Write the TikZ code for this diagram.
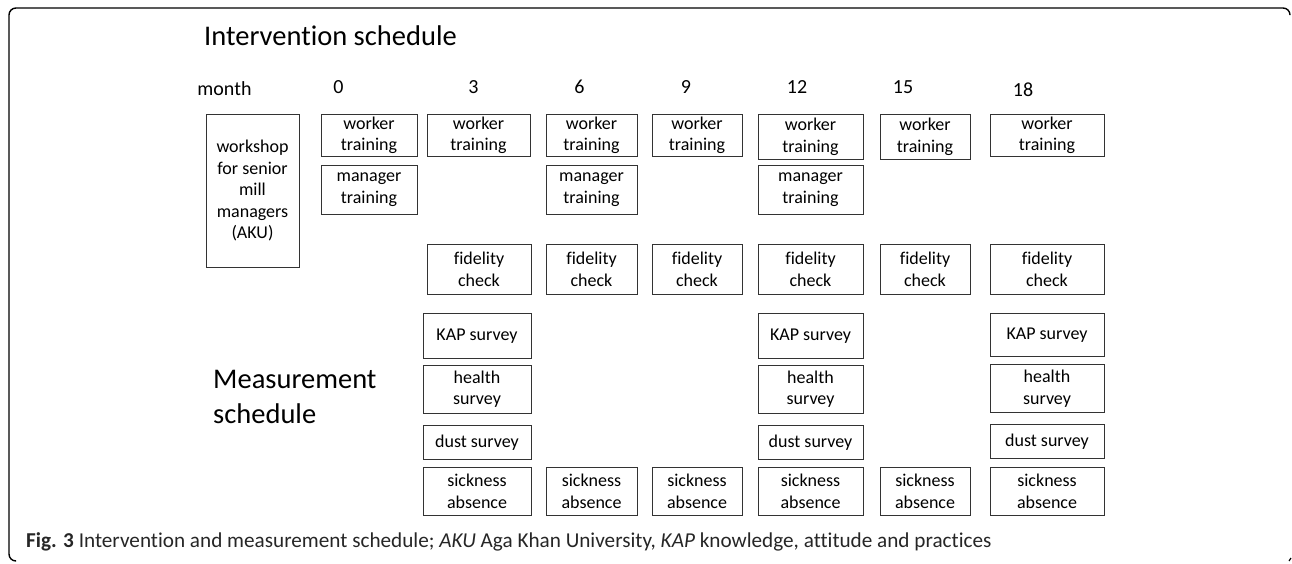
\documentclass[tikz,border=0pt]{standalone}
\usepackage{fontspec}
\setmainfont[Ligatures=NoCommon]{Carlito}
\usetikzlibrary{positioning}

\begin{document}
\begin{tikzpicture}[x=1pt,y=-1pt,
	task/.style={rectangle,draw=black!80,line width=0.9pt,inner sep=0pt,text centered,align=center,anchor=north,font=\fontsize{18}{21.5}\selectfont},
	monthlab/.style={inner sep=0pt,font=\fontsize{20}{24}\selectfont},
	heading/.style={inner sep=0pt,align=left,font=\fontsize{28.5}{35}\selectfont},
	caption/.style={inner sep=0pt,anchor=west,text=black!85,font=\fontsize{21.2}{24}\selectfont},
	frame/.style={line width=1.4pt,rounded corners=7pt}
	]
\useasboundingbox (0,0) rectangle (1292,563);

\draw [frame] (1290,14) -- (1290,8) -- (9,8) -- (9,561) -- (15,561);
\draw [line width=1.2pt] (1289,561) -- (1291,558);

\node [heading] (title) at (330.5,36) {Intervention schedule};
\node [heading, anchor=west] (meas) at (213,397) {Measurement\\schedule};

\node [monthlab] (month) at (224.5,89) {month};
\node [monthlab] (m0)  at (338.5,87) {0};
\node [monthlab] (m3)  at (473.5,87) {3};
\node [monthlab] (m6)  at (579.5,87) {6};
\node [monthlab] (m9)  at (686,87)   {9};
\node [monthlab] (m12) at (797,87)   {12};
\node [monthlab] (m15) at (903,87)   {15};
\node [monthlab] (m18) at (1023,90)  {18};

\node [task, minimum width=93, minimum height=153] (ws) at (252.5,114) {workshop\\for senior\\mill\\managers\\(AKU)};

% worker training
\node [task, minimum width=96,  minimum height=42] (w0)  at (369,114)    {worker\\training};
\node [task, minimum width=103, minimum height=42] (w3)  at (478.5,114)  {worker\\training};
\node [task, minimum width=91,  minimum height=42] (w6)  at (591.5,114)  {worker\\training};
\node [task, minimum width=90,  minimum height=42] (w9)  at (697,114)    {worker\\training};
\node [task, minimum width=105, minimum height=45] (w12) at (810.5,114)  {worker\\training};
\node [task, minimum width=90,  minimum height=45] (w15) at (925,114)    {worker\\training};
\node [task, minimum width=114, minimum height=42] (w18) at (1047,114)   {worker\\training};

% manager training
\node [task, minimum width=96,  minimum height=49] (mt0)  [below =8pt of w0]  {manager\\training};
\node [task, minimum width=91,  minimum height=49] (mt6)  [below =8pt of w6]  {manager\\training};
\node [task, minimum width=105, minimum height=49] (mt12) [below =5pt of w12] {manager\\training};

% fidelity check
\node [task, minimum width=104, minimum height=50] (f3)  at (479,244)    {fidelity\\check};
\node [task, minimum width=91,  minimum height=50] (f6)  at (591.5,244)  {fidelity\\check};
\node [task, minimum width=90,  minimum height=50] (f9)  at (697,244)    {fidelity\\check};
\node [task, minimum width=105, minimum height=50] (f12) at (810.5,244)  {fidelity\\check};
\node [task, minimum width=90,  minimum height=50] (f15) at (925,244)    {fidelity\\check};
\node [task, minimum width=114, minimum height=50] (f18) at (1047,244)   {fidelity\\check};

% surveys
\node [task, minimum width=108, minimum height=45] (k3)  at (477,313)    {KAP survey};
\node [task, minimum width=105, minimum height=45] (k12) at (810.5,313)  {KAP survey};
\node [task, minimum width=114, minimum height=43] (k18) at (1047,313)   {KAP survey};

\node [task, minimum width=108, minimum height=48] (h3)  [below =6pt of k3]  {health\\survey};
\node [task, minimum width=105, minimum height=48] (h12) [below =6pt of k12] {health\\survey};
\node [task, minimum width=114, minimum height=48] (h18) at (1047,364)       {health\\survey};

\node [task, minimum width=108, minimum height=34] (d3)  [below =11pt of h3]  {dust survey};
\node [task, minimum width=105, minimum height=34] (d12) [below =11pt of h12] {dust survey};
\node [task, minimum width=114, minimum height=34] (d18) [below =11pt of h18] {dust survey};

% sickness absence
\node [task, minimum width=108, minimum height=48] (s3)  at (477,467)    {sickness\\absence};
\node [task, minimum width=91,  minimum height=48] (s6)  at (591.5,467)  {sickness\\absence};
\node [task, minimum width=90,  minimum height=48] (s9)  at (697,467)    {sickness\\absence};
\node [task, minimum width=105, minimum height=48] (s12) at (810.5,467)  {sickness\\absence};
\node [task, minimum width=90,  minimum height=48] (s15) at (925,467)    {sickness\\absence};
\node [task, minimum width=114, minimum height=48] (s18) at (1047,467)   {sickness\\absence};

\node [caption] (cap) at (26,542) {\textbf{Fig. 3} Intervention and measurement schedule; \textit{AKU} Aga Khan University, \textit{KAP} knowledge, attitude and practices};
\end{tikzpicture}
\end{document}
